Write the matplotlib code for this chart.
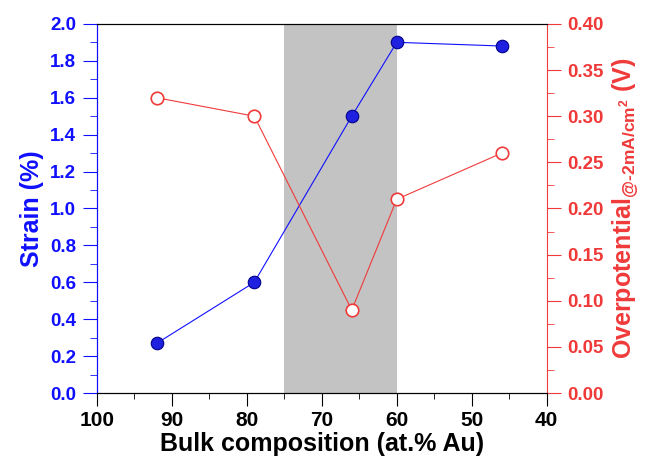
import matplotlib.pyplot as plt
import numpy as np

plt.rcParams['font.family'] = 'Liberation Sans'
plt.rcParams['font.weight'] = 'bold'
plt.rcParams['mathtext.fontset'] = 'custom'
plt.rcParams['mathtext.rm'] = 'Liberation Sans'
plt.rcParams['mathtext.it'] = 'Liberation Sans'
plt.rcParams['mathtext.bf'] = 'Liberation Sans:bold'

au = [92, 79, 66, 60, 46]
strain = [0.27, 0.60, 1.50, 1.90, 1.88]
overpot = [0.32, 0.30, 0.09, 0.21, 0.26]
shade = [75, 60]

blue = '#1010ff'
red = '#f03a3a'

fig = plt.figure(figsize=(6.54, 4.68), dpi=100)
ax = fig.add_axes([0.148, 0.160, 0.688, 0.789])
ax2 = ax.twinx()

ax.axvspan(shade[0], shade[1], color='#c3c3c3', lw=0, zorder=0)
ax.plot(au, strain, '-', color=blue, lw=0.8, zorder=3)
ax.plot(au, strain, 'o', ms=9, mfc='#2020e0', mec='#00008a', mew=0.8, zorder=4)
ax2.plot(au, overpot, '-o', color=red, lw=0.8, ms=9, mfc='white', mec=red, mew=1.2)

ax.set_xlim(100, 40)
ax.set_ylim(0, 2.0)
ax2.set_ylim(0, 0.40)
ax.set_xticks(np.arange(100, 39, -10))
ax.set_xticks(np.arange(95, 40, -10), minor=True)
ax.set_yticks(np.arange(0, 2.01, 0.2))
ax.set_yticks(np.arange(0.1, 2.0, 0.2), minor=True)
ax2.set_yticks(np.arange(0, 0.401, 0.05))
ax2.set_yticks(np.arange(0.025, 0.4, 0.05), minor=True)
ax.set_yticklabels(['%.1f' % v for v in np.arange(0, 2.01, 0.2)])
ax2.set_yticklabels(['%.2f' % v for v in np.arange(0, 0.401, 0.05)])

ax.tick_params(axis='x', which='major', direction='out', length=9, labelsize=15, pad=4)
ax.tick_params(axis='x', which='minor', direction='out', length=4.5)
ax.tick_params(axis='y', which='major', direction='out', length=10, colors=blue, labelsize=13.5, pad=5)
ax.tick_params(axis='y', which='minor', direction='out', length=5, colors=blue)
ax2.tick_params(axis='y', which='major', direction='out', length=10, colors=red, labelsize=13.5, pad=5)
ax2.tick_params(axis='y', which='minor', direction='out', length=5, colors=red)

ax.spines['left'].set_color(blue)
ax2.spines['left'].set_color(blue)
ax2.spines['right'].set_color(red)
ax.spines['right'].set_visible(False)

ax.set_xlabel('Bulk composition (at.% Au)', fontsize=18, fontweight='bold', labelpad=1)
ax.set_ylabel('Strain (%)', fontsize=18, fontweight='bold', color=blue, labelpad=4)
ax2.set_ylabel('Overpotential$_{\\mathregular{@\u20102mA/cm^2}}$ (V)', fontsize=18,
               fontweight='bold', color=red, labelpad=5)

fig.savefig('out.png', dpi=100)
